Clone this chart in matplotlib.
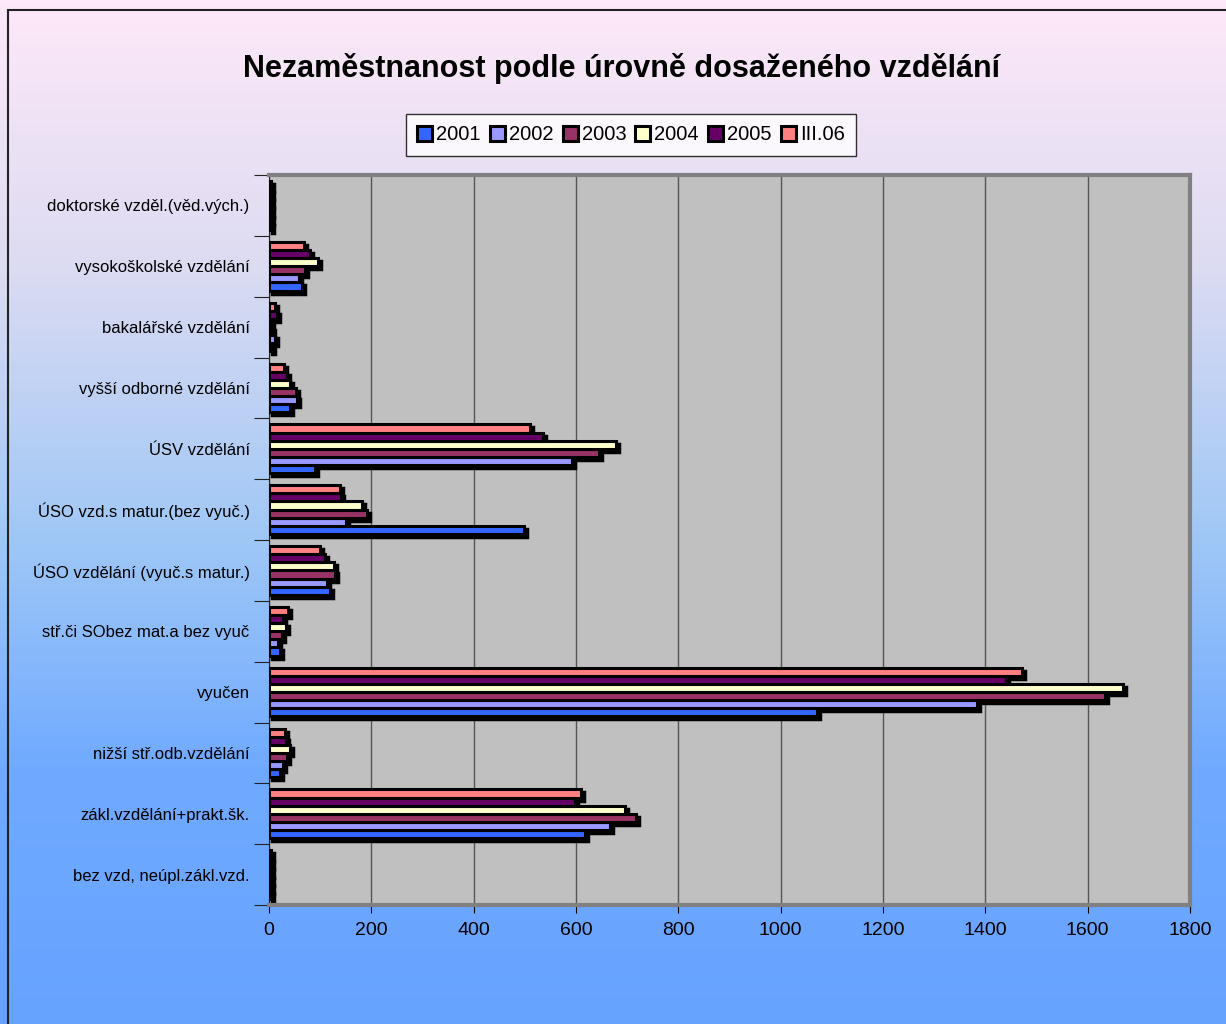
import matplotlib.pyplot as plt
import matplotlib.transforms as mtransforms
from matplotlib.colors import LinearSegmentedColormap
from matplotlib.patches import Rectangle
import numpy as np

plt.rcParams['font.family'] = ['Liberation Sans', 'DejaVu Sans']

# kategorie odspodu nahoru
kategorie = ['bez vzd, neúpl.zákl.vzd.', 'zákl.vzdělání+prakt.šk.', 'nižší stř.odb.vzdělání',
             'vyučen', 'stř.či SObez mat.a bez vyuč', 'ÚSO vzdělání (vyuč.s matur.)',
             'ÚSO vzd.s matur.(bez vyuč.)', 'ÚSV vzdělání', 'vyšší odborné vzdělání',
             'bakalářské vzdělání', 'vysokoškolské vzdělání', 'doktorské vzděl.(věd.vých.)']

roky = ['2001', '2002', '2003', '2004', '2005', 'III.06']
barvy = ['#3366ff', '#9999ff', '#993366', '#ffffcc', '#660066', '#ff8080']

h2001 = [4, 618, 22, 1071, 21, 119, 498, 90, 41, 6, 64, 3]
h2002 = [4, 666, 28, 1383, 18, 113, 150, 593, 55, 12, 59, 3]
h2003 = [4, 718, 35, 1633, 25, 129, 191, 644, 53, 5, 70, 3]
h2004 = [4, 695, 41, 1670, 33, 127, 181, 679, 41, 4, 95, 3]
h2005 = [4, 598, 33, 1440, 27, 109, 140, 535, 35, 16, 80, 3]
h2006 = [4, 610, 32, 1471, 37, 100, 138, 511, 29, 12, 69, 3]
data = [h2001, h2002, h2003, h2004, h2005, h2006]

W, H = 1226, 1024
fig = plt.figure(figsize=(W / 100, H / 100), dpi=100)

# pozadi - prechod z ruzove do modre
bg = fig.add_axes([0, 0, 1, 1], zorder=-10)
cmap = LinearSegmentedColormap.from_list('bg', [(0, '#fde8f8'), (0.25, '#dedcf2'),
                                                (0.53, '#9ec7f6'), (0.75, '#70aaff'),
                                                (1, '#66a3ff')])
bg.imshow(np.linspace(0, 1, 256).reshape(-1, 1), aspect='auto', cmap=cmap,
          extent=[0, 1, 0, 1])
bg.add_patch(Rectangle((8 / W, -0.1), 1.2, 1 - 10 / H + 0.1, fill=False,
                       edgecolor='#222222', lw=1.5, transform=bg.transAxes))
bg.set_xlim(0, 1)
bg.set_ylim(0, 1)
bg.axis('off')

left, right, top, bottom = 269, 1190, 175, 905
ax = fig.add_axes([left / W, (H - bottom) / H, (right - left) / W, (bottom - top) / H])
ax.set_facecolor('#c0c0c0')

y = np.arange(len(kategorie))
n = len(roky)
bh = 0.133
shadow = mtransforms.offset_copy(ax.transData, fig=fig, x=3, y=-3, units='dots')
for i, (rok, hodnoty, c) in enumerate(zip(roky, data, barvy)):
    pos = y - (n - 1) / 2 * bh + i * bh
    ax.barh(pos, hodnoty, height=bh, color='black', edgecolor='black', lw=2.5,
            transform=shadow, zorder=2)
    ax.barh(pos, hodnoty, height=bh, color=c, edgecolor='black', lw=2.2,
            label=rok, zorder=3)

ax.set_xlim(0, 1800)
ax.set_ylim(-0.5, len(kategorie) - 0.5)
ax.set_xticks(np.arange(0, 1801, 200))
ax.xaxis.grid(True, color='#555555', lw=1)
ax.set_axisbelow(True)
ax.tick_params(axis='x', labelsize=14, length=6, direction='out', pad=6)

ax.set_yticks(np.arange(-0.5, len(kategorie)), minor=False)
ax.set_yticklabels([])
ax.set_yticks(y, minor=True)
ax.set_yticklabels(kategorie, minor=True)
ax.tick_params(axis='y', which='major', length=11, color='#222222')
ax.tick_params(axis='y', which='minor', length=0, labelsize=12, pad=14)

for s in ['top', 'right']:
    ax.spines[s].set_color('#808080')
    ax.spines[s].set_linewidth(3)
ax.spines['left'].set_color('#222222')
ax.spines['bottom'].set_color('#808080')
ax.spines['bottom'].set_linewidth(3)

fig.text(622 / W, 1 - 68 / H, 'Nezaměstnanost podle úrovně dosaženého vzdělání',
         ha='center', va='center', fontsize=22, fontweight='bold')

leg = fig.legend(loc='center', bbox_to_anchor=(631 / W, 1 - 135 / H), ncol=6,
                 fontsize=14.5, frameon=True, fancybox=False, edgecolor='black',
                 handlelength=0.75, handleheight=0.75, handletextpad=0.2,
                 columnspacing=0.45, borderpad=0.55)
leg.get_frame().set_linewidth(1)

fig.savefig('out.png', dpi=100)
